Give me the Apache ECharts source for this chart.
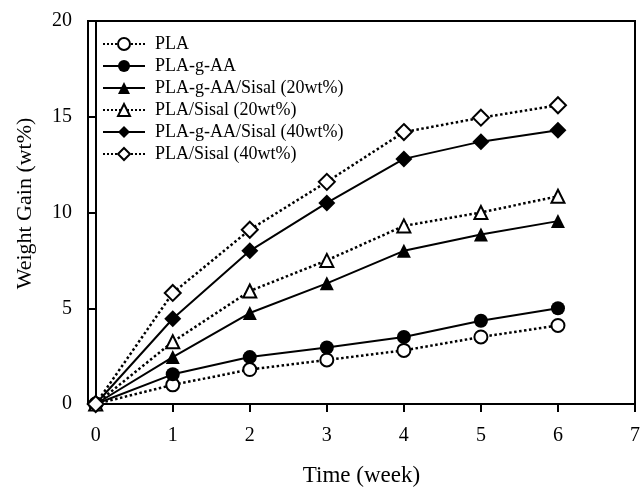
<!DOCTYPE html>
<html>
<head>
<meta charset="utf-8">
<script src="https://cdn.jsdelivr.net/npm/echarts@6/dist/echarts.min.js"></script>
<style>
  html, body { margin: 0; padding: 0; background: #fff; }
  #chart { width: 640px; height: 487px; }
</style>
</head>
<body>
<div id="chart"></div>
<script>
  // weeks and weight gain (wt%)
  const weeks = [0, 1, 2, 3, 4, 5, 6]
  const tickWeeks = [0, 1, 2, 3, 4, 5, 6, 7]
  const pla = [0, 1.0, 1.8, 2.3, 2.8, 3.5, 4.1]
  const plaGAA = [0, 1.55, 2.45, 2.95, 3.5, 4.35, 5.0]
  const plaGAASisal20 = [0, 2.45, 4.75, 6.3, 8.0, 8.85, 9.55]
  const plaSisal20 = [0, 3.25, 5.9, 7.5, 9.3, 10.0, 10.85]
  const plaGAASisal40 = [0, 4.45, 8.0, 10.5, 12.8, 13.7, 14.3]
  const plaSisal40 = [0, 5.8, 9.1, 11.6, 14.2, 14.95, 15.6]

  const font = 'Liberation Serif'

  function pairs (vals) {
    return weeks.map((w, i) => [w, vals[i]])
  }

  // solid = filled marker, dotted = open marker
  function makeSeries (name, vals, symbol, size, filled) {
    return {
      name: name,
      type: 'line',
      data: pairs(vals),
      symbol: symbol,
      symbolSize: size,
      showSymbol: true,
      lineStyle: {
        color: '#000',
        width: filled ? 2 : 2.5,
        type: filled ? 'solid' : 'dotted'
      },
      itemStyle: {
        color: filled ? '#000' : '#fff',
        borderColor: '#000',
        borderWidth: filled ? 0 : 2
      },
      emphasis: { disabled: true },
      animation: false
    }
  }

  const chart = echarts.init(document.getElementById('chart'))
  chart.setOption({
    backgroundColor: '#fff',
    grid: {
      left: 88,
      right: 5,
      top: 21,
      bottom: 83,
      outerBoundsMode: 'none',
      show: true,
      borderColor: '#000',
      borderWidth: 2
    },
    legend: {
      orient: 'vertical',
      left: 97,
      top: 30,
      itemWidth: 42,
      itemHeight: 15,
      itemGap: 4,
      textStyle: { fontFamily: font, fontSize: 18, color: '#000', padding: [0, 0, 0, 5] },
      data: ['PLA', 'PLA-g-AA', 'PLA-g-AA/Sisal (20wt%)', 'PLA/Sisal (20wt%)', 'PLA-g-AA/Sisal (40wt%)', 'PLA/Sisal (40wt%)']
    },
    xAxis: {
      type: 'value',
      min: -0.1,
      max: 7,
      name: 'Time (week)',
      nameLocation: 'middle',
      nameGap: 60,
      nameTextStyle: { fontFamily: font, fontSize: 23, color: '#000' },
      axisLine: { lineStyle: { color: '#000', width: 2 } },
      axisTick: { show: true, length: 8, lineStyle: { color: '#000', width: 2 }, customValues: tickWeeks },
      axisLabel: { fontFamily: font, fontSize: 20, color: '#000', margin: 22, customValues: tickWeeks },
      splitLine: { show: false }
    },
    yAxis: {
      type: 'value',
      min: 0,
      max: 20,
      interval: 5,
      name: 'Weight Gain (wt%)',
      nameLocation: 'middle',
      nameGap: 52,
      nameTextStyle: { fontFamily: font, fontSize: 22, color: '#000', padding: [0, 0, 0, 18] },
      axisLine: { show: true, lineStyle: { color: '#000', width: 2 } },
      axisTick: { show: true, length: 8, lineStyle: { color: '#000', width: 2 } },
      axisLabel: { fontFamily: font, fontSize: 20, color: '#000', margin: 16 },
      splitLine: { show: false }
    },
    series: [
      makeSeries('PLA', pla, 'circle', 13, false),
      makeSeries('PLA-g-AA', plaGAA, 'circle', 14, true),
      makeSeries('PLA-g-AA/Sisal (20wt%)', plaGAASisal20, 'triangle', 14, true),
      makeSeries('PLA/Sisal (20wt%)', plaSisal20, 'triangle', 13, false),
      makeSeries('PLA-g-AA/Sisal (40wt%)', plaGAASisal40, 'diamond', 17, true),
      makeSeries('PLA/Sisal (40wt%)', plaSisal40, 'diamond', 16, false)
    ]
  })
</script>
</body>
</html>
